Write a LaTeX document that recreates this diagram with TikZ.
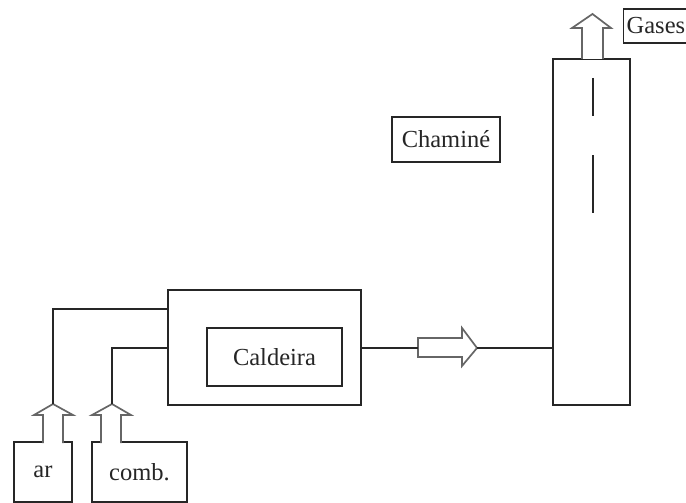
\documentclass[tikz,border=0pt]{standalone}
\usepackage{fontspec}
\setmainfont{Liberation Serif}
\begin{document}
\begin{tikzpicture}[x=1pt,y=-1pt,
  box/.style={draw=black!85,line width=1.3pt},
  lbl/.style={font=\fontsize{24.5}{26}\selectfont,text=black!85},
  conn/.style={draw=black!85,line width=1.3pt},
  hollow/.style={draw=black!60,line width=1.7pt,fill=white,line join=miter}]
\useasboundingbox (0,0) rectangle (686,503);
\clip (0,0) rectangle (686,503);
% boiler
\draw[box] (168,290) rectangle (361,405);
\node[box,minimum width=135pt,minimum height=58pt,inner sep=0pt,lbl] (cald) at (274.5,357) {Caldeira};
\coordinate (outerL1) at (168,309);
\coordinate (outerL2) at (168,348);
\coordinate (outerR) at (361,348);
% chimney
\node[box,minimum width=77pt,minimum height=346pt,inner sep=0pt] (chim) at (591.5,232) {};
\draw[conn] (593,78) -- (593,116);
\draw[conn] (593,155) -- (593,213);
\node[box,minimum width=108pt,minimum height=45pt,inner sep=0pt,lbl] (chlab) at (446,139.5) {Chaminé};
\node[box,minimum width=90pt,minimum height=34pt,inner sep=0pt,lbl,anchor=west,text width=84pt,align=left] (gases) at (623,26) {Gases};
% inputs
\node[box,minimum width=58pt,minimum height=60pt,inner sep=0pt,lbl] (ar) at (43,472) {ar};
\node[box,minimum width=95pt,minimum height=60pt,inner sep=0pt,lbl] (comb) at (139.5,472) {comb.};
% hollow arrows
\draw[hollow] (43,443) -- (43,415) -- (34,415) -- (53,404) -- (73,415) -- (63,415) -- (63,443);
\draw[hollow] (101,443) -- (101,415) -- (92,415) -- (112,404) -- (131,415) -- (121,415) -- (121,443);
\draw[hollow] (582,59) -- (582,28) -- (572,28) -- (592.5,14) -- (611,28) -- (603,28) -- (603,59);
\coordinate (ha) at (418,348);
\coordinate (hb) at (477,348);
\draw[hollow] (418,338) -- (462,338) -- (462,328) -- (477,348) -- (462,366) -- (462,357) -- (418,357) -- cycle;
% connectors
\draw[conn] (53,404) -- (53,309) -- (outerL1);
\draw[conn] (112,404) -- (112,348) -- (outerL2);
\draw[conn] (outerR) -- (ha);
\draw[conn] (hb) -- (chim.west |- hb);
\end{tikzpicture}
\end{document}
